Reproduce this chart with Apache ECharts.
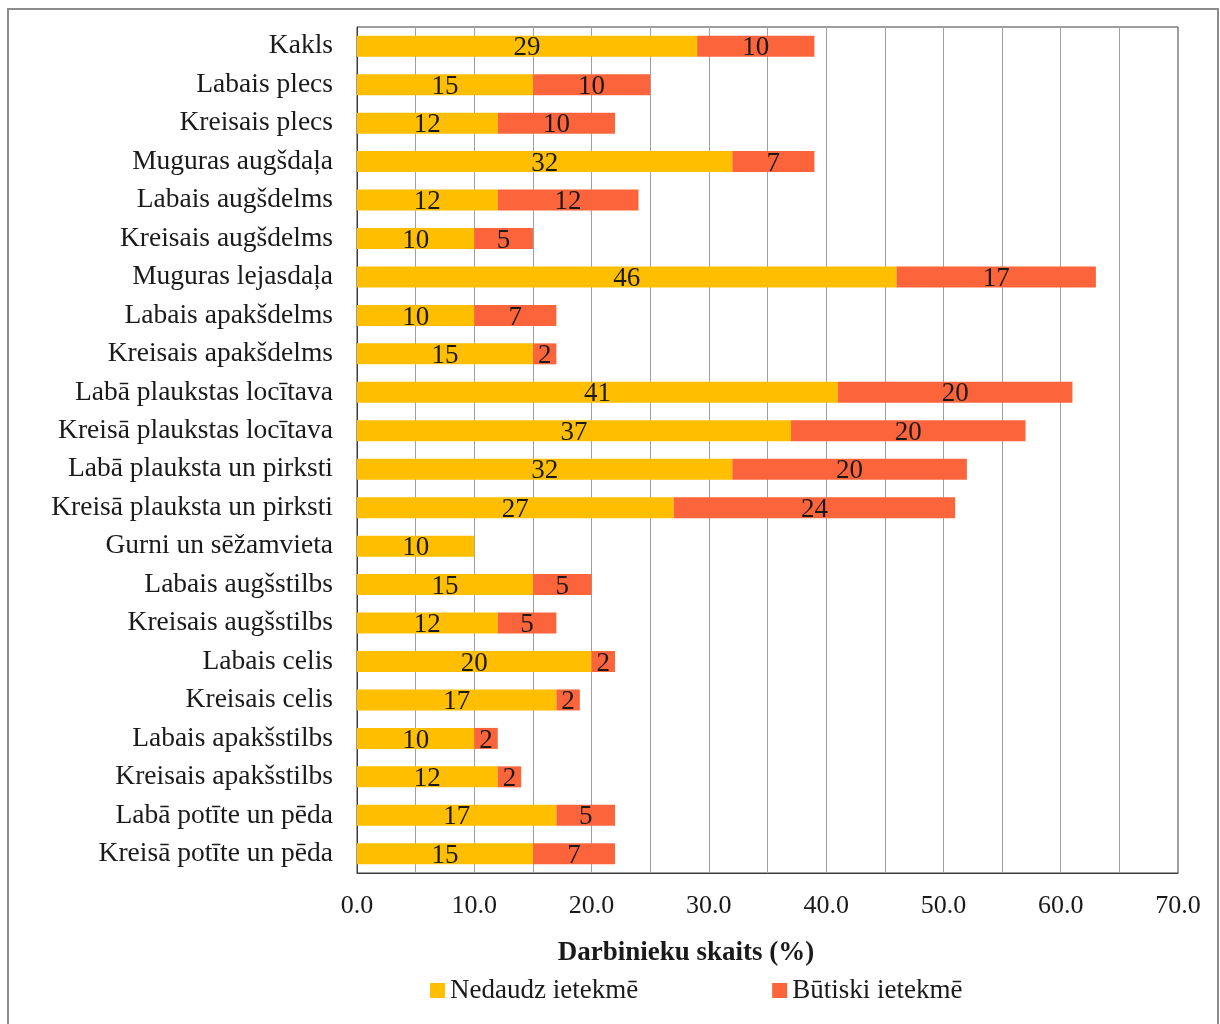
<!DOCTYPE html>
<html>
<head>
<meta charset="utf-8">
<title>Darbinieku skaits</title>
<script src="https://cdn.jsdelivr.net/npm/echarts@6/dist/echarts.min.js"></script>
<style>
  html, body { margin: 0; padding: 0; background: #ffffff; }
  #chart { width: 1220px; height: 1024px; }
</style>
</head>
<body>
<div id="chart"></div>
<script>
// Body regions, top to bottom
const categories = [
  'Kakls', 'Labais plecs', 'Kreisais plecs', 'Muguras augšdaļa',
  'Labais augšdelms', 'Kreisais augšdelms', 'Muguras lejasdaļa',
  'Labais apakšdelms', 'Kreisais apakšdelms', 'Labā plaukstas locītava',
  'Kreisā plaukstas locītava', 'Labā plauksta un pirksti',
  'Kreisā plauksta un pirksti', 'Gurni un sēžamvieta', 'Labais augšstilbs',
  'Kreisais augšstilbs', 'Labais celis', 'Kreisais celis',
  'Labais apakšstilbs', 'Kreisais apakšstilbs', 'Labā potīte un pēda',
  'Kreisā potīte un pēda'
];

// Share of workers (%), slight impact
const nedaudz = [29, 15, 12, 32, 12, 10, 46, 10, 15, 41, 37, 32, 27, 10, 15, 12, 20, 17, 10, 12, 17, 15];
// Share of workers (%), significant impact (none reported for hips)
const butiski = [10, 10, 10, 7, 12, 5, 17, 7, 2, 20, 20, 20, 24, null, 5, 5, 2, 2, 2, 2, 5, 7];

const seriesNames = ['Nedaudz ietekmē', 'Būtiski ietekmē'];
const axisTitle = 'Darbinieku skaits (%)';

const FONT = '"Liberation Serif", "Times New Roman", serif';
const TEXT = '#1a1a1a';

const chart = echarts.init(document.getElementById('chart'), null, { renderer: 'canvas' });

const labelStyle = {
  show: true,
  position: 'inside',
  offset: [0, 2],
  color: TEXT,
  fontFamily: FONT,
  fontSize: 27,
  formatter: p => (p.value == null ? '' : String(p.value))
};

chart.setOption({
  backgroundColor: '#ffffff',
  animation: false,
  grid: {
    left: 357, right: 42, top: 27, bottom: 151,
    show: true, borderColor: '#3c3c3c', borderWidth: 1,
    backgroundColor: 'transparent'
  },
  xAxis: {
    type: 'value',
    min: 0, max: 70, interval: 5,
    axisLine: { show: true, lineStyle: { color: '#3c3c3c', width: 1 } },
    axisTick: { show: false },
    splitLine: { show: true, lineStyle: { color: '#a0a0a0', width: 1 } },
    axisLabel: {
      margin: 20,
      color: TEXT, fontFamily: FONT, fontSize: 26,
      formatter: v => (v % 10 === 0 ? v.toFixed(1) : '')
    }
  },
  yAxis: {
    type: 'category',
    data: categories,
    inverse: true,
    axisLine: { show: true, lineStyle: { color: '#3c3c3c', width: 1 } },
    axisTick: { show: false },
    axisLabel: {
      margin: 24,
      padding: [5, 0, 0, 0],
      color: TEXT, fontFamily: FONT, fontSize: 27.5
    }
  },
  legend: {
    data: seriesNames,
    left: 425, top: 972,
    icon: 'rect', itemWidth: 15, itemHeight: 15,
    itemGap: 134,
    textStyle: { color: TEXT, fontFamily: FONT, fontSize: 27 }
  },
  graphic: [
    {
      type: 'rect',
      shape: { x: 8, y: 9, width: 1210, height: 1040 },
      style: { fill: 'none', stroke: '#8c8c8c', lineWidth: 2 },
      silent: true
    },
    {
      type: 'text',
      x: 686, y: 953,
      style: {
        text: axisTitle,
        fill: TEXT,
        font: 'bold 27px ' + FONT,
        textAlign: 'center',
        textVerticalAlign: 'middle'
      }
    }
  ],
  series: [
    {
      name: seriesNames[0],
      type: 'bar',
      stack: 'total',
      data: nedaudz,
      barWidth: 21,
      itemStyle: { color: '#FFBF00' },
      label: labelStyle
    },
    {
      name: seriesNames[1],
      type: 'bar',
      stack: 'total',
      data: butiski,
      barWidth: 21,
      itemStyle: { color: '#FC643C' },
      label: labelStyle
    }
  ]
});
</script>
</body>
</html>
